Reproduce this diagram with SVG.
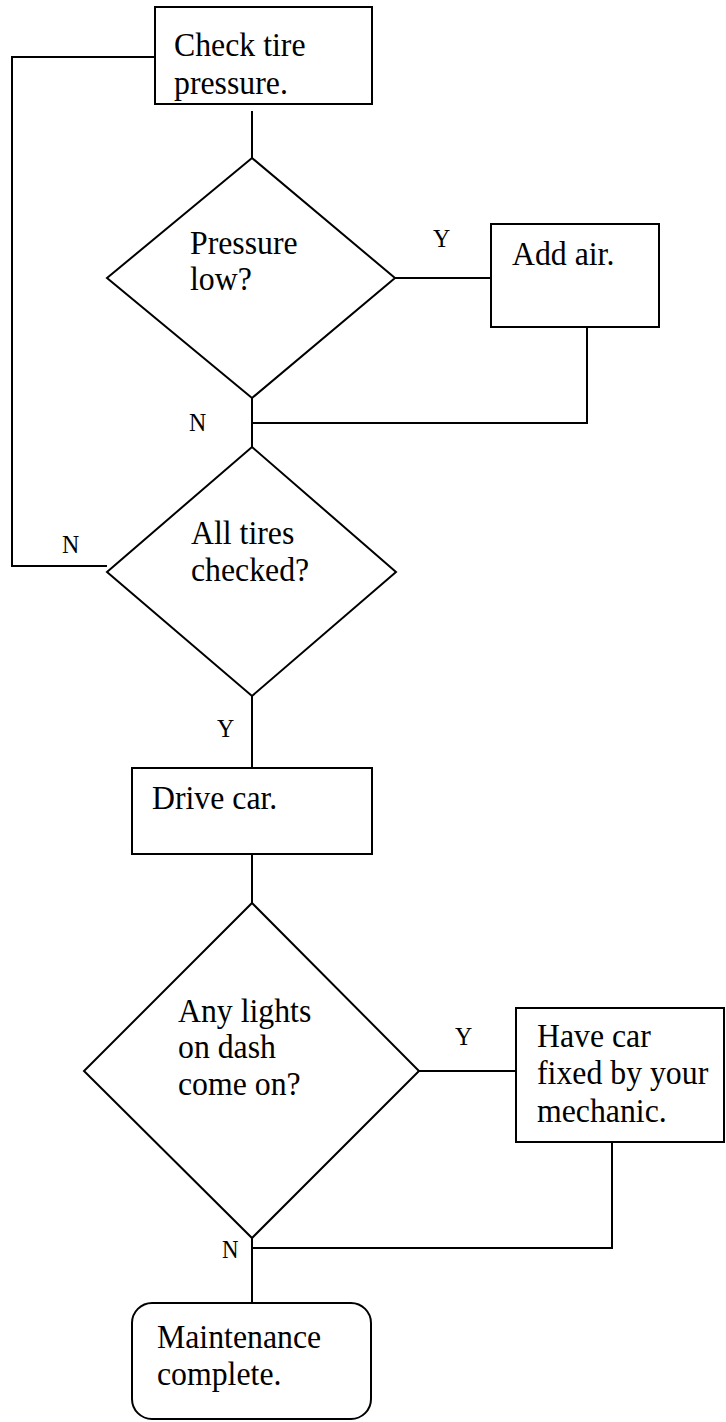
<svg xmlns="http://www.w3.org/2000/svg" width="726" height="1422" viewBox="0 0 726 1422">
<style>
.shape{fill:#fff;stroke:#000;stroke-width:2}
.conn{fill:none;stroke:#000;stroke-width:2}
.t{font-family:"Liberation Serif","Times New Roman",serif;font-size:34px;fill:#000}
.lbl{font-family:"Liberation Serif","Times New Roman",serif;font-size:26px;fill:#000}
</style>
<rect width="726" height="1422" fill="#fff"/>
<g id="connectors">
<polyline class="conn" points="155,57 12,57 12,566 107,566"/>
<line class="conn" x1="252" y1="111" x2="252" y2="158"/>
<line class="conn" x1="395" y1="278" x2="491" y2="278"/>
<polyline class="conn" points="587,327 587,423 252,423"/>
<line class="conn" x1="252" y1="398" x2="252" y2="447"/>
<line class="conn" x1="252" y1="696" x2="252" y2="768"/>
<line class="conn" x1="252" y1="854" x2="252" y2="903"/>
<line class="conn" x1="419" y1="1071" x2="516" y2="1071"/>
<polyline class="conn" points="612,1142 612,1248 252,1248"/>
<line class="conn" x1="252" y1="1238" x2="252" y2="1303"/>
<text class="lbl" transform="translate(433,247) scale(0.92,1)">Y</text>
<text class="lbl" transform="translate(189,431) scale(0.92,1)">N</text>
<text class="lbl" transform="translate(62,553) scale(0.92,1)">N</text>
<text class="lbl" transform="translate(217,737) scale(0.92,1)">Y</text>
<text class="lbl" transform="translate(455,1045) scale(0.92,1)">Y</text>
<text class="lbl" transform="translate(222,1258) scale(0.88,0.95)">N</text>
</g>
<g id="check">
<rect class="shape" x="155" y="7" width="217" height="97"/>
<text class="t" transform="translate(174,56) scale(0.935,1)">Check tire</text>
<text class="t" transform="translate(174,94) scale(0.935,1)">pressure.</text>
</g>
<g id="pressureLow">
<polygon class="shape" points="252,158 395,278 252,398 107,278"/>
<text class="t" transform="translate(190,254) scale(0.935,1)">Pressure</text>
<text class="t" transform="translate(190,290) scale(0.935,1)">low?</text>
</g>
<g id="addAir">
<rect class="shape" x="491" y="224" width="168" height="103"/>
<text class="t" transform="translate(512,265) scale(0.935,1)">Add air.</text>
</g>
<g id="allChecked">
<polygon class="shape" points="252,447 396,572 252,696 107,572"/>
<text class="t" transform="translate(191,544) scale(0.935,1)">All tires</text>
<text class="t" transform="translate(191,581) scale(0.935,1)">checked?</text>
</g>
<g id="drive">
<rect class="shape" x="132" y="768" width="240" height="86"/>
<text class="t" transform="translate(152,809) scale(0.935,1)">Drive car.</text>
</g>
<g id="lights">
<polygon class="shape" points="252,903 419,1071 252,1238 84,1071"/>
<text class="t" transform="translate(178,1022) scale(0.935,1)">Any lights</text>
<text class="t" transform="translate(178,1058) scale(0.935,1)">on dash</text>
<text class="t" transform="translate(178,1095) scale(0.935,1)">come on?</text>
</g>
<g id="fix">
<rect class="shape" x="516" y="1008" width="208" height="134"/>
<text class="t" transform="translate(537,1047) scale(0.935,1)">Have car</text>
<text class="t" transform="translate(537,1084) scale(0.935,1)">fixed by your</text>
<text class="t" transform="translate(537,1122) scale(0.935,1)">mechanic.</text>
</g>
<g id="done">
<rect class="shape" x="132" y="1303" width="239" height="116" rx="20" ry="20"/>
<text class="t" transform="translate(157,1348) scale(0.935,1)">Maintenance</text>
<text class="t" transform="translate(157,1385) scale(0.935,1)">complete.</text>
</g>
</svg>
